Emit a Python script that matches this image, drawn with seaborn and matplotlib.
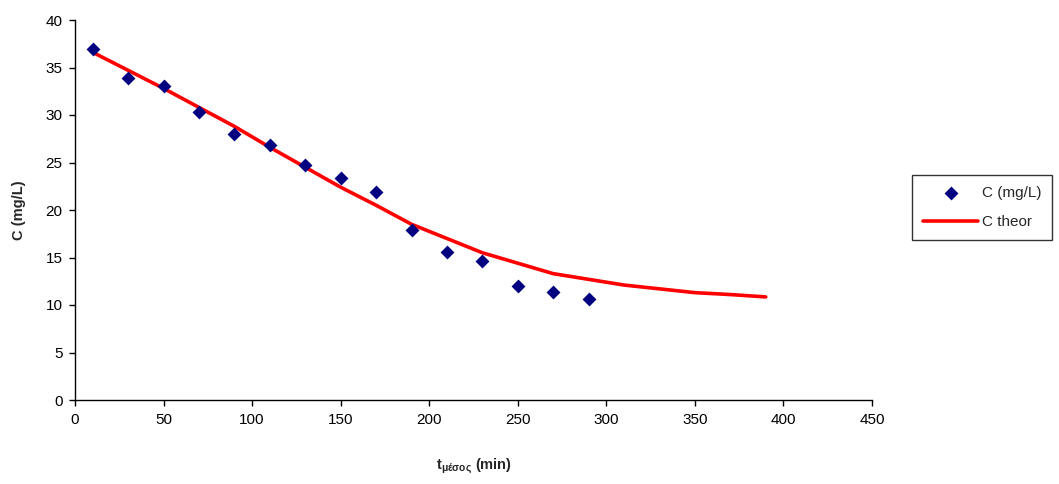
import matplotlib
matplotlib.use("Agg")
import matplotlib.pyplot as plt
import seaborn as sns
import pandas as pd

# Data
t_meas = [10, 30, 50, 70, 90, 110, 130, 150, 170, 190, 210, 230, 250, 270, 290]
c_meas = [37.0, 33.9, 33.05, 30.35, 28.0, 26.8, 24.7, 23.4, 21.9, 17.9, 15.6, 14.6, 12.0, 11.4, 10.6]
t_theor = [10, 30, 50, 70, 90, 110, 130, 150, 170, 190, 210, 230, 250, 270, 290, 310, 330, 350, 370, 390]
c_theor = [36.6, 34.7, 32.8, 30.8, 28.8, 26.6, 24.5, 22.4, 20.5, 18.5, 17.0, 15.5, 14.4, 13.3, 12.7,
           12.1, 11.7, 11.3, 11.1, 10.85]

sns.set_style("white")
plt.rcParams['font.family'] = ['Liberation Sans', 'DejaVu Sans']
plt.rcParams['mathtext.fontset'] = 'custom'
plt.rcParams['mathtext.rm'] = 'Liberation Sans'
plt.rcParams['mathtext.bf'] = 'Liberation Sans:bold'

fig = plt.figure(figsize=(10.59, 4.84), dpi=100)
ax = fig.add_axes([75/1059, 1 - 400/484, (872-75)/1059, (400-20)/484])

df_m = pd.DataFrame({"t": t_meas, "C": c_meas})
df_t = pd.DataFrame({"t": t_theor, "C": c_theor})

sns.scatterplot(data=df_m, x="t", y="C", ax=ax, marker="D", s=50, color="#000080",
                edgecolor="#000080", linewidth=0, label="C (mg/L)", zorder=3)
sns.lineplot(data=df_t, x="t", y="C", ax=ax, color="#ff0000", linewidth=2.6,
             label="C theor", zorder=2)

ax.set_xlim(0, 450)
ax.set_ylim(0, 40)
ax.set_xticks(range(0, 451, 50))
ax.set_yticks(range(0, 41, 5))
for s in ["top", "right"]:
    ax.spines[s].set_visible(False)
for s in ["left", "bottom"]:
    ax.spines[s].set_color("black")
    ax.spines[s].set_linewidth(1.0)
ax.tick_params(axis="both", direction="out", length=4, width=1, color="black",
               labelsize=11, labelcolor="black", left=True, bottom=True, pad=5)

ax.set_ylabel("C (mg/L)", fontsize=10.5, fontweight="bold", labelpad=14)
ax.set_xlabel(r"$\mathbf{t}_{\mathbf{μέσος}}$ (min)", fontsize=10.5, fontweight="bold", labelpad=22)

leg = ax.legend(loc="upper left", bbox_to_anchor=(912/1059, 1 - 175/484),
                bbox_transform=fig.transFigure, frameon=True, fancybox=False,
                edgecolor="black", fontsize=11, handlelength=3.6, borderpad=0.75,
                labelspacing=0.95, handletextpad=0.2, borderaxespad=0)
leg.get_frame().set_linewidth(1.0)

fig.savefig("out.png", dpi=100, facecolor="white")
